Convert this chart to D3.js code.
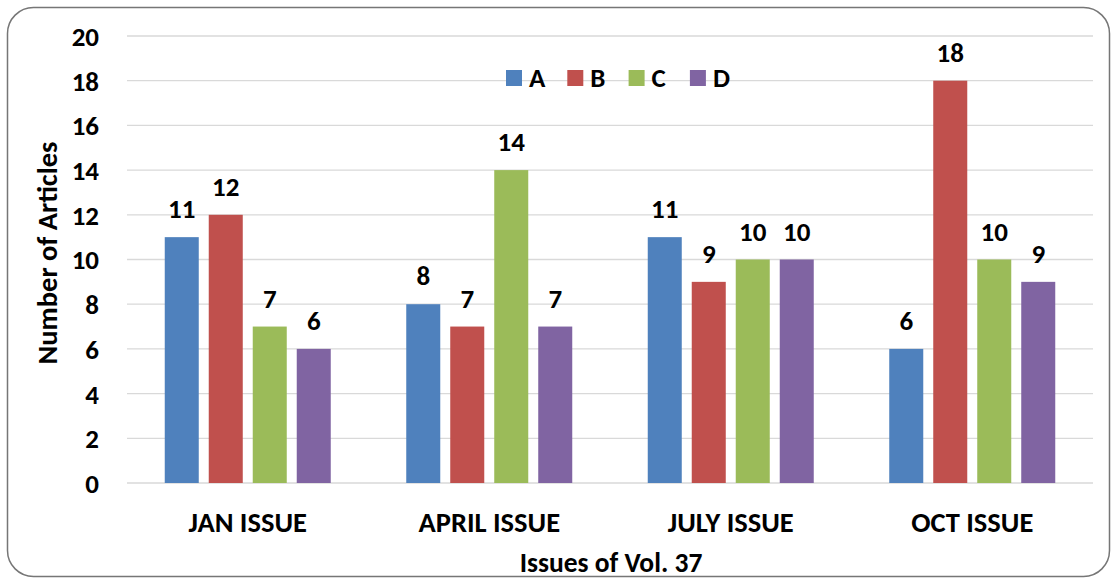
<!DOCTYPE html>
<html>
<head>
<meta charset="utf-8">
<script src="https://cdn.jsdelivr.net/npm/d3@7"></script>
<style>
  body { margin: 0; background: #fff; }
  text { font-family: Carlito, Calibri, Lato, sans-serif; font-weight: bold; fill: #000; }
</style>
</head>
<body>
<div id="chart"></div>
<script>
// Data
const issues = ["JAN ISSUE", "APRIL ISSUE", "JULY ISSUE", "OCT ISSUE"];
const series = ["A", "B", "C", "D"];
const valuesA = [11, 8, 11, 6];
const valuesB = [12, 7, 9, 18];
const valuesC = [7, 14, 10, 10];
const valuesD = [6, 7, 10, 9];
const yTicks = [0, 2, 4, 6, 8, 10, 12, 14, 16, 18, 20];
const colors = ["#4F81BD", "#C0504D", "#9BBB59", "#8064A2"];

const seriesValues = [valuesA, valuesB, valuesC, valuesD];

// Settings
const width = 1112;
const height = 578;
const plot = { left: 127, right: 1093, top: 36, bottom: 483 };
const fontSize = 27;

const svg = d3.select("#chart")
    .append("svg")
    .attr("width", width)
    .attr("height", height);

// border
svg.append("rect")
    .attr("x", 7.5).attr("y", 7.5)
    .attr("width", 1102).attr("height", 569)
    .attr("rx", 26).attr("ry", 26)
    .attr("fill", "#fff")
    .attr("stroke", "#767676")
    .attr("stroke-width", 1.5);

const x0 = d3.scaleBand()
    .domain(issues)
    .range([plot.left, plot.right]);

const x1 = d3.scaleBand()
    .domain(series)
    .range([37.75, x0.bandwidth() - 37.75])
    .paddingInner(0.227);

const y = d3.scaleLinear()
    .domain([0, 20])
    .range([plot.bottom, plot.top]);

// gridlines
svg.append("g")
    .selectAll("line")
    .data(yTicks)
    .join("line")
    .attr("x1", plot.left).attr("x2", plot.right)
    .attr("y1", d => y(d)).attr("y2", d => y(d))
    .attr("stroke", "#d9d9d9")
    .attr("stroke-width", 1.3);

// y axis
const yAxis = svg.append("g")
    .attr("transform", "translate(99,0)")
    .call(d3.axisLeft(y).tickValues(yTicks).tickSize(0).tickPadding(0));
yAxis.select(".domain").remove();
yAxis.selectAll("text")
    .attr("font-size", fontSize)
    .attr("font-family", null)
    .attr("dy", "0.35em");

// x axis
const xAxis = svg.append("g")
    .attr("transform", `translate(0,${plot.bottom})`)
    .call(d3.axisBottom(x0).tickSize(0).tickPadding(0));
xAxis.select(".domain").remove();
xAxis.selectAll("text")
    .attr("font-size", 28.5)
    .attr("font-family", null)
    .attr("dy", null)
    .attr("y", 49);

// bars
const groups = svg.append("g")
    .selectAll("g")
    .data(issues)
    .join("g")
    .attr("transform", d => `translate(${x0(d)},0)`);

groups.selectAll("rect")
    .data((d, i) => series.map((s, j) => ({ s, v: seriesValues[j][i], c: colors[j] })))
    .join("rect")
    .attr("x", d => x1(d.s))
    .attr("y", d => y(d.v))
    .attr("width", x1.bandwidth())
    .attr("height", d => y(0) - y(d.v))
    .attr("fill", d => d.c);

groups.selectAll("text.lbl")
    .data((d, i) => series.map((s, j) => ({ s, v: seriesValues[j][i] })))
    .join("text")
    .attr("class", "lbl")
    .attr("x", d => x1(d.s) + x1.bandwidth() / 2)
    .attr("y", d => y(d.v) - 19)
    .attr("text-anchor", "middle")
    .attr("font-size", fontSize)
    .text(d => d.v);

// legend
const legend = svg.append("g")
    .selectAll("g")
    .data(series)
    .join("g")
    .attr("transform", (d, i) => `translate(${506 + i * 61.3},70)`);

legend.append("rect")
    .attr("width", 16).attr("height", 16)
    .attr("fill", (d, i) => colors[i]);

legend.append("text")
    .attr("x", 23).attr("y", 8)
    .attr("dy", "0.35em")
    .attr("font-size", fontSize)
    .text(d => d);

// axis titles
svg.append("text")
    .attr("x", 611).attr("y", 572)
    .attr("text-anchor", "middle")
    .attr("font-size", 27.5)
    .text("Issues of Vol. 37");

svg.append("text")
    .attr("transform", "translate(57,253) rotate(-90)")
    .attr("text-anchor", "middle")
    .attr("font-size", 28.5)
    .text("Number of Articles");
</script>
</body>
</html>
